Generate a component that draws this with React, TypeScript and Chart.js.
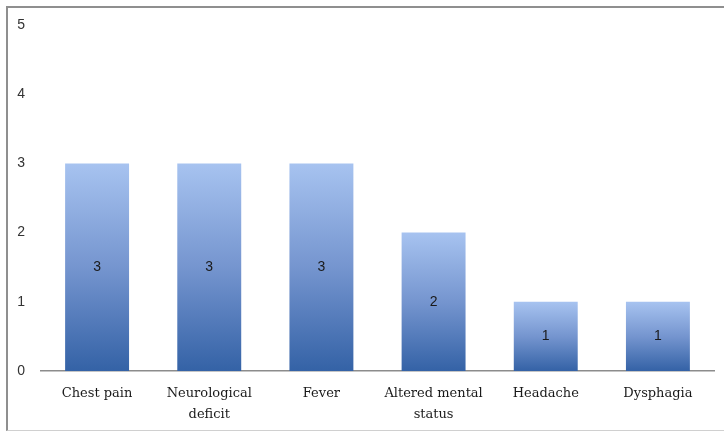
import React, { useEffect, useRef } from "react";
import { Chart, registerables } from "chart.js";

Chart.register(...registerables);

const categories: string[][] = [
  ["Chest pain"],
  ["Neurological", "deficit"],
  ["Fever"],
  ["Altered mental", "status"],
  ["Headache"],
  ["Dysphagia"],
];
const counts: number[] = [3, 3, 3, 2, 1, 1];
const yTicks: number[] = [0, 1, 2, 3, 4, 5];

const W = 724;
const H = 433;

const barLabels = {
  id: "barLabels",
  afterDatasetsDraw(chart: any) {
    const ctx = chart.ctx;
    const meta = chart.getDatasetMeta(0);
    ctx.save();
    ctx.fillStyle = "#1a1a1a";
    ctx.font = "14px 'Liberation Sans', Arial, sans-serif";
    ctx.textAlign = "center";
    ctx.textBaseline = "middle";
    meta.data.forEach((bar: any, i: number) => {
      const v = chart.data.datasets[0].data[i];
      ctx.fillText(String(v), bar.x, (bar.y + bar.base) / 2);
    });
    ctx.restore();
  },
};

export default function App() {
  const ref = useRef<HTMLCanvasElement | null>(null);
  useEffect(() => {
    if (!ref.current) return;
    const chart = new Chart(ref.current, {
      type: "bar",
      data: {
        labels: categories,
        datasets: [
          {
            data: counts,
            backgroundColor: (c: any) => {
              const ch = c.chart;
              const ys = ch.scales?.y;
              if (!ch.chartArea || !ys || c.raw == null) return "#6b8fcc";
              const top = ys.getPixelForValue(c.raw);
              const base = ys.getPixelForValue(0);
              const g = ch.ctx.createLinearGradient(0, top, 0, base);
              g.addColorStop(0, "#a7c3f0");
              g.addColorStop(0.5, "#7595cf");
              g.addColorStop(1, "#3462a6");
              return g;
            },
            borderWidth: 0,
            barPercentage: 0.57,
            categoryPercentage: 1,
          },
        ],
      },
      options: {
        responsive: false,
        animation: false,
        maintainAspectRatio: false,
        layout: { padding: { left: 0, right: 10, top: 25, bottom: 0 } },
        plugins: {
          legend: { display: false },
          tooltip: { enabled: false },
        },
        scales: {
          x: {
            grid: { display: false, drawTicks: false },
            border: { display: true, color: "#8c8c8c", width: 1.5 },
            ticks: {
              color: "#1a1a1a",
              font: { family: "'DejaVu Serif', serif", size: 13, lineHeight: 1.55 },
              padding: 13,
              maxRotation: 0,
              autoSkip: false,
            },
            afterFit: (s: any) => {
              s.height = 62;
            },
          },
          y: {
            min: 0,
            max: 5,
            afterBuildTicks: (s: any) => {
              s.ticks = yTicks.map((v) => ({ value: v }));
            },
            grid: { display: false, drawTicks: false },
            border: { display: false },
            ticks: {
              color: "#333333",
              font: { family: "'Liberation Sans', Arial, sans-serif", size: 14 },
              padding: 16,
            },
            afterFit: (s: any) => {
              s.width = 41;
            },
          },
        },
      },
      plugins: [barLabels],
    });
    return () => chart.destroy();
  }, []);

  return (
    <div
      style={{
        position: "fixed",
        left: 0,
        top: 0,
        width: W,
        height: H,
        background: "#ffffff",
        overflow: "hidden",
      }}
    >
      <div
        style={{
          position: "absolute",
          left: 6,
          top: 6,
          width: W + 20,
          height: H - 8,
          borderLeft: "2px solid #8f8f8f",
          borderTop: "2px solid #8f8f8f",
          borderBottom: "1px solid #d0d0d0",
          boxSizing: "border-box",
        }}
      />
      <canvas
        ref={ref}
        width={W}
        height={H}
        style={{ position: "absolute", left: 0, top: 0, width: W, height: H }}
      />
    </div>
  );
}
